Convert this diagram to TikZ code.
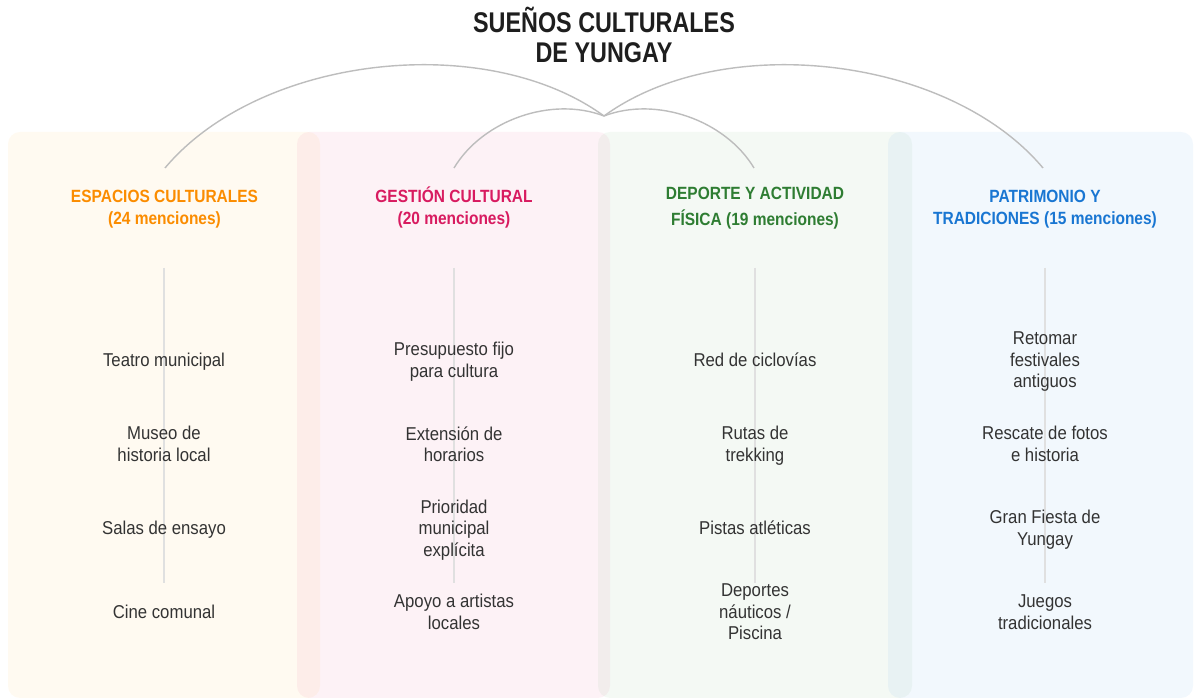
\documentclass[tikz,border=0pt]{standalone}
\usepackage{fontspec}
\setmainfont{Liberation Sans}
\newfontfamily\titlefont{Liberation Sans}[FakeStretch=0.82]
\newfontfamily\headfont{Liberation Sans}[FakeStretch=0.875]
\newfontfamily\bodyfont{Liberation Sans}[FakeStretch=0.90]
\definecolor{cOrange}{HTML}{FB8C00}
\definecolor{cPink}{HTML}{D81B60}
\definecolor{cGreen}{HTML}{2E7D32}
\definecolor{cBlue}{HTML}{1976D2}
\definecolor{fOrange}{HTML}{FFB300}
\definecolor{fPink}{HTML}{E91E63}
\definecolor{fGreen}{HTML}{43A047}
\definecolor{fBlue}{HTML}{1E88E5}
\definecolor{arcgray}{HTML}{BDBDBD}
\definecolor{vgray}{HTML}{E0E0E0}
\definecolor{bodytext}{HTML}{333333}
\definecolor{titletext}{HTML}{1E1E1E}
\begin{document}
\begin{tikzpicture}[x=1pt,y=1pt,
  colbox/.style={rounded corners=12pt, fill opacity=0.055},
  titlenode/.style={font=\titlefont\bfseries\fontsize{28.5}{30}\selectfont, align=center, inner sep=0pt, text=titletext},
  head/.style={font=\headfont\bfseries\fontsize{17.7}{22}\selectfont, align=center, inner sep=0pt, text depth=0pt},
  item/.style={font=\bodyfont\fontsize{18.6}{21.5}\selectfont, align=center, inner sep=0pt, text=bodytext, text depth=0pt},
  arcline/.style={draw=arcgray, line width=1.4pt},
  vline/.style={draw=vgray, line width=1.3pt}]

\fill[white] (0,0) rectangle (1195,700);
\useasboundingbox (0,0) rectangle (1195,700);

% column backgrounds
\fill[colbox, fill=fOrange] (8,2) rectangle (320,568);
\fill[colbox, fill=fPink] (297,2) rectangle (610,568);
\fill[colbox, fill=fGreen] (598,2) rectangle (912,568);
\fill[colbox, fill=fBlue] (888,2) rectangle (1193,568);

% title
\node[titlenode, anchor=south] (title) at (604,636.7) {SUEÑOS CULTURALES\\DE YUNGAY};

% junction and header tops
\coordinate (j) at (604,584);
\coordinate (t1) at (165,532);
\coordinate (t2) at (454,532);
\coordinate (t3) at (754,532);
\coordinate (t4) at (1043,532);

\draw[arcline] (t1) to[out=50, in=144, looseness=0.85] (j);
\draw[arcline] (t2) to[out=59, in=159, looseness=0.9] (j);
\draw[arcline] (t3) to[out=121, in=21, looseness=0.9] (j);
\draw[arcline] (t4) to[out=130, in=36, looseness=0.85] (j);

% headers
\node[head, text=cOrange] (h1) at (164.5,492.5) {ESPACIOS CULTURALES\\(24 menciones)};
\node[head, text=cPink] (h2) at (454,494) {GESTIÓN CULTURAL\\(20 menciones)};
\node[head, text=cGreen, font=\headfont\bfseries\fontsize{17.7}{26}\selectfont] (h3) at (755,494) {DEPORTE Y ACTIVIDAD\\FÍSICA (19 menciones)};
\node[head, text=cBlue] (h4) at (1045,492.5) {PATRIMONIO Y\\TRADICIONES (15 menciones)};

% vertical guide lines
\coordinate (v1a) at (164,432); \coordinate (v1b) at (164,117);
\coordinate (v2a) at (454,432); \coordinate (v2b) at (454,117);
\coordinate (v3a) at (755,432); \coordinate (v3b) at (755,117);
\coordinate (v4a) at (1045,432); \coordinate (v4b) at (1045,117);
\draw[vline] (v1a) -- (v1b);
\draw[vline] (v2a) -- (v2b);
\draw[vline] (v3a) -- (v3b);
\draw[vline] (v4a) -- (v4b);

% column 1 items
\node[item] (a1) at (164,340) {Teatro municipal};
\node[item] (a2) at (164,256) {Museo de\\historia local};
\node[item] (a3) at (164,172) {Salas de ensayo};
\node[item] (a4) at (164,88) {Cine comunal};

% column 2 items
\node[item] (b1) at (454,340) {Presupuesto fijo\\para cultura};
\node[item] (b2) at (454,256) {Extensión de\\horarios};
\node[item] (b3) at (454,172) {Prioridad\\municipal\\explícita};
\node[item] (b4) at (454,88) {Apoyo a artistas\\locales};

% column 3 items
\node[item] (c1) at (755,340) {Red de ciclovías};
\node[item] (c2) at (755,256) {Rutas de\\trekking};
\node[item] (c3) at (755,172) {Pistas atléticas};
\node[item] (c4) at (755,88) {Deportes\\náuticos /\\Piscina};

% column 4 items
\node[item] (d1) at (1045,340) {Retomar\\festivales\\antiguos};
\node[item] (d2) at (1045,256) {Rescate de fotos\\e historia};
\node[item] (d3) at (1045,172) {Gran Fiesta de\\Yungay};
\node[item] (d4) at (1045,88) {Juegos\\tradicionales};
\end{tikzpicture}
\end{document}
